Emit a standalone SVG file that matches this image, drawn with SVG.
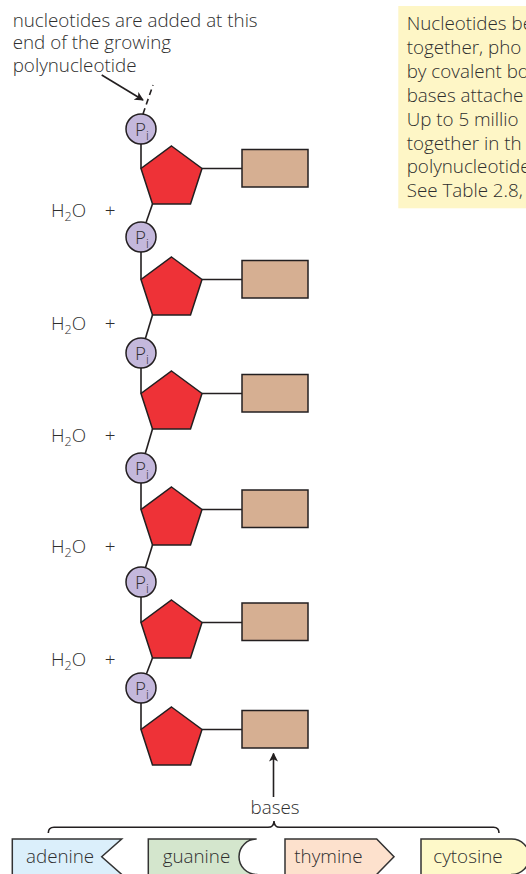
<svg xmlns="http://www.w3.org/2000/svg" width="526" height="874" viewBox="0 0 526 874">
<defs>
<style>
.t{font-family:"Open Sans","Liberation Sans",sans-serif;font-size:18.8px;font-weight:300;fill:#2e2e2e;}
.pent{fill:#ee3237;stroke:#231f20;stroke-width:1.5;stroke-linejoin:miter;}
.base{fill:#d6af92;stroke:#231f20;stroke-width:1.5;}
.pi{fill:#c4b8dc;stroke:#231f20;stroke-width:1.5;}
.ln{stroke:#231f20;stroke-width:1.6;fill:none;}
.lab{stroke:#333;stroke-width:1.5;}
</style>
<polygon id="pent" class="pent" points="30.5,0 61,22.5 49.5,58 11.5,58 0,22.5"/>
<marker id="ah" viewBox="0 0 10 10" refX="9" refY="5" markerWidth="9" markerHeight="9" markerUnits="userSpaceOnUse" orient="auto">
<path d="M0,0 L10,5 L0,10 L2.5,5 Z" fill="#231f20"/>
</marker>
</defs>
<rect width="526" height="874" fill="#fff"/>

<g id="note-top">
<text class="t" x="12.7" y="26.5">nucleotides are added at this</text>
<text class="t" x="12.7" y="49">end of the growing</text>
<text class="t" x="12.7" y="71.5">polynucleotide</text>
</g>

<g id="note-right">
<rect x="398.3" y="6" width="130" height="202.3" fill="#fef6c6"/>
<text class="t" x="406.7" y="30">Nucleotides be</text>
<text class="t" x="406.7" y="53.9">together, pho</text>
<text class="t" x="406.7" y="77.8">by covalent bo</text>
<text class="t" x="406.7" y="101.7">bases attache</text>
<text class="t" x="406.7" y="125.6">Up to 5 millio</text>
<text class="t" x="406.7" y="149.5">together in th</text>
<text class="t" x="406.7" y="173.4">polynucleotide</text>
<text class="t" x="406.7" y="197.3">See Table 2.8,</text>
</g>

<g id="connectors">
<line class="ln" x1="101.7" y1="75" x2="143" y2="100" marker-end="url(#ah)"/>
<line class="ln" x1="143" y1="114" x2="153" y2="85" stroke-dasharray="6 4"/>
<line class="ln" x1="141" y1="129" x2="141" y2="168.5"/>
<line class="ln" x1="202" y1="168.5" x2="242" y2="168.5"/>
<line class="ln" x1="152.5" y1="204" x2="141" y2="237"/>
<line class="ln" x1="141" y1="237" x2="141" y2="279.5"/>
<line class="ln" x1="202" y1="279.5" x2="242" y2="279.5"/>
<line class="ln" x1="152.5" y1="315" x2="141" y2="353"/>
<line class="ln" x1="141" y1="353" x2="141" y2="393.5"/>
<line class="ln" x1="202" y1="393.5" x2="242" y2="393.5"/>
<line class="ln" x1="152.5" y1="429" x2="141" y2="468"/>
<line class="ln" x1="141" y1="468" x2="141" y2="509.5"/>
<line class="ln" x1="202" y1="509.5" x2="242" y2="509.5"/>
<line class="ln" x1="152.5" y1="545" x2="141" y2="582"/>
<line class="ln" x1="141" y1="582" x2="141" y2="622.5"/>
<line class="ln" x1="202" y1="622.5" x2="242" y2="622.5"/>
<line class="ln" x1="152.5" y1="658" x2="141" y2="688"/>
<line class="ln" x1="141" y1="688" x2="141" y2="729.5"/>
<line class="ln" x1="202" y1="729.5" x2="242" y2="729.5"/>
<line class="ln" x1="273.5" y1="797" x2="273.5" y2="753.5" marker-end="url(#ah)"/>
<path class="ln" d="M48.3,833 Q48.3,827.3 54,827.3 H268 Q274,827.3 274,821 Q274,827.3 280,827.3 H493.5 Q499,827.3 499,833"/>
</g>

<g id="nucleotide-1">
<circle class="pi" cx="141" cy="129" r="15"/>
<text class="t" x="142" y="135.7" text-anchor="middle" font-size="19.5">P<tspan font-size="12.5" dy="4.5">i</tspan></text>
<use href="#pent" x="141" y="146"/>
<rect class="base" x="242" y="149.5" width="66" height="37.5"/>
</g>
<g id="nucleotide-2">
<circle class="pi" cx="141" cy="237" r="15"/>
<text class="t" x="142" y="243.7" text-anchor="middle" font-size="19.5">P<tspan font-size="12.5" dy="4.5">i</tspan></text>
<use href="#pent" x="141" y="257"/>
<rect class="base" x="242" y="260.5" width="66" height="37.5"/>
</g>
<g id="nucleotide-3">
<circle class="pi" cx="141" cy="353" r="15"/>
<text class="t" x="142" y="359.7" text-anchor="middle" font-size="19.5">P<tspan font-size="12.5" dy="4.5">i</tspan></text>
<use href="#pent" x="141" y="371"/>
<rect class="base" x="242" y="374.5" width="66" height="37.5"/>
</g>
<g id="nucleotide-4">
<circle class="pi" cx="141" cy="468" r="15"/>
<text class="t" x="142" y="474.7" text-anchor="middle" font-size="19.5">P<tspan font-size="12.5" dy="4.5">i</tspan></text>
<use href="#pent" x="141" y="487"/>
<rect class="base" x="242" y="490" width="66" height="37.5"/>
</g>
<g id="nucleotide-5">
<circle class="pi" cx="141" cy="582" r="15"/>
<text class="t" x="142" y="588.7" text-anchor="middle" font-size="19.5">P<tspan font-size="12.5" dy="4.5">i</tspan></text>
<use href="#pent" x="141" y="600"/>
<rect class="base" x="242" y="603" width="66" height="37.5"/>
</g>
<g id="nucleotide-6">
<circle class="pi" cx="141" cy="688" r="15"/>
<text class="t" x="142" y="694.7" text-anchor="middle" font-size="19.5">P<tspan font-size="12.5" dy="4.5">i</tspan></text>
<use href="#pent" x="141" y="707"/>
<rect class="base" x="242" y="710.5" width="66" height="37.5"/>
</g>

<g id="water">
<text class="t" x="51" y="217">H<tspan font-size="12.5" dy="4">2</tspan><tspan dy="-4">O</tspan></text>
<text class="t" x="110" y="217" text-anchor="middle">+</text>
<text class="t" x="51" y="330">H<tspan font-size="12.5" dy="4">2</tspan><tspan dy="-4">O</tspan></text>
<text class="t" x="110" y="330" text-anchor="middle">+</text>
<text class="t" x="51" y="441.5">H<tspan font-size="12.5" dy="4">2</tspan><tspan dy="-4">O</tspan></text>
<text class="t" x="110" y="441.5" text-anchor="middle">+</text>
<text class="t" x="51" y="553">H<tspan font-size="12.5" dy="4">2</tspan><tspan dy="-4">O</tspan></text>
<text class="t" x="110" y="553" text-anchor="middle">+</text>
<text class="t" x="51" y="666">H<tspan font-size="12.5" dy="4">2</tspan><tspan dy="-4">O</tspan></text>
<text class="t" x="110" y="666" text-anchor="middle">+</text>
</g>

<g id="bases-label">
<text class="t" x="275" y="814" text-anchor="middle">bases</text>
</g>

<g id="adenine">
<path class="lab" fill="#dbeffb" d="M12.3,839 H121.7 L101.7,856.7 L121.7,874.4 V880 H12.3 Z"/>
<text class="t" x="26" y="863">adenine</text>
</g>
<g id="guanine">
<path class="lab" fill="#d4e6cd" d="M148.3,839 H256.7 A17.7,17.7 0 0 0 256.7,874.4 V880 H148.3 Z"/>
<text class="t" x="162.7" y="863">guanine</text>
</g>
<g id="thymine">
<path class="lab" fill="#fde1cd" d="M285,839 H376.7 L394,856.7 L376.7,874.4 V880 H285 Z"/>
<text class="t" x="294.3" y="863">thymine</text>
</g>
<g id="cytosine">
<path class="lab" fill="#fef9c9" d="M421,839 H511.7 A17.7,17.7 0 0 1 511.7,874.4 V880 H421 Z"/>
<text class="t" x="433.3" y="863">cytosine</text>
</g>
</svg>
